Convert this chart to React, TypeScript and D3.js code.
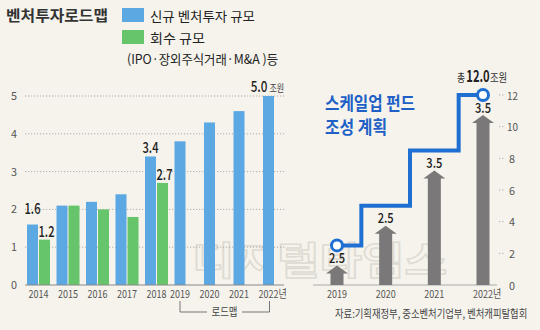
import React from 'react';
import * as d3 from 'd3';

const years = ['2014', '2015', '2016', '2017', '2018', '2019', '2020', '2021', '2022'];
const newInvest = [1.6, 2.1, 2.2, 2.4, 3.4, 3.8, 4.3, 4.6, 5.0];
const recovery: (number | null)[] = [1.2, 2.1, 2.0, 1.8, 2.7, null, null, null, null];
const leftTicks = [0, 1, 2, 3, 4, 5];
const newLabelIdx = [0, 4, 8];
const recLabelIdx = [0, 4];

const fundYears = ['2019', '2020', '2021', '2022'];
const fundAmounts = [2.5, 2.5, 3.5, 3.5];
const rightTicks = [0, 2, 4, 6, 8, 10, 12];

const BLUE = '#5ba8e3';
const GREEN = '#66c56a';
const LINE = '#1f6fd2';
const GRAY = '#7a7879';
const BG = '#f5f3ec';
const KR = "'Noto Sans CJK KR', 'Noto Sans', sans-serif";

function YearLabel({ cx, y, text, last }: { cx: number; y: number; text: string; last: boolean }) {
  const sx = 0.82;
  if (last) {
    return (
      <text transform={`translate(${cx - 10},${y}) scale(${sx},1)`} fontSize={11} fill="#555">
        {text}년
      </text>
    );
  }
  return (
    <text transform={`translate(${cx},${y}) scale(${sx},1)`} fontSize={11} fill="#555" textAnchor="middle">
      {text}
    </text>
  );
}

export default function App() {
  const W = 540, H = 330;
  // left chart
  const xL = d3.scaleBand<string>().domain(years).range([24, 24 + 29.5 * years.length]).padding(0);
  const yL = d3.scaleLinear().domain([0, 5]).range([285, 96]);
  const barW = 11;
  const blueX = (y: string) => (xL(y) as number) + 3;
  const greenX = (y: string) => (xL(y) as number) + 15;
  const groupCenter = (i: number) =>
    recovery[i] != null ? (blueX(years[i]) + greenX(years[i]) + barW) / 2 : blueX(years[i]) + barW / 2;

  // right chart
  const xR = d3.scalePoint<string>().domain(fundYears).range([337, 483]);
  const yR = d3.scaleLinear().domain([0, 12]).range([285, 95]);
  const cum = Array.from(d3.cumsum(fundAmounts));
  const stepLine = d3.line<number>()
    .x((_, i) => xR(fundYears[i]) as number)
    .y((d) => yR(d))
    .curve(d3.curveStep);

  const arrowPath = (cx: number, tip: number, base: number) => {
    const hw = 11, sw = 6.5, hh = 8;
    return `M${cx},${tip} L${cx + hw},${tip + hh} L${cx + sw},${tip + hh} L${cx + sw},${base} L${cx - sw},${base} L${cx - sw},${tip + hh} L${cx - hw},${tip + hh} Z`;
  };

  return (
    <svg width={W} height={H} style={{ position: 'absolute', left: 0, top: 0 }} fontFamily={KR}>
      <rect x={0} y={0} width={W} height={H} fill={BG} />

      {/* watermark */}
      <text x={192} y={274} fontSize={38} fontWeight={700} fill="none" stroke="#dedbd3" strokeWidth={1.5}
        textLength={255} lengthAdjust="spacingAndGlyphs">디지털타임스</text>

      {/* title and legend */}
      <text x={6} y={21} fontSize={15} fontWeight={700} fill="#333" textLength={102} lengthAdjust="spacingAndGlyphs">벤처투자로드맵</text>
      <rect x={122} y={8} width={22} height={14} fill={BLUE} />
      <text x={150} y={21} fontSize={13} fill="#222" textLength={105} lengthAdjust="spacingAndGlyphs">신규 벤처투자 규모</text>
      <rect x={122} y={30} width={22} height={14} fill={GREEN} />
      <text x={150} y={43} fontSize={13} fill="#222" textLength={55} lengthAdjust="spacingAndGlyphs">회수 규모</text>
      <text x={127} y={64} fontSize={13} fill="#222" textLength={151} lengthAdjust="spacingAndGlyphs">(IPO·장외주식거래·M&amp;A )등</text>

      {/* left grid */}
      {leftTicks.map((t) => (
        <g key={'lt' + t}>
          {t > 0 && (
            <line x1={25} x2={286} y1={yL(t)} y2={yL(t)} stroke="#9a9a9a" strokeWidth={0.8} strokeDasharray="1.2,1.8" />
          )}
          <text x={14} y={yL(t) + 4} fontSize={11} fill="#555" textAnchor="middle" textLength={6} lengthAdjust="spacingAndGlyphs">{t}</text>
        </g>
      ))}

      {/* left bars */}
      {years.map((y, i) => (
        <g key={'b' + y}>
          <rect x={blueX(y)} y={yL(newInvest[i])} width={barW} height={yL(0) - yL(newInvest[i])} fill={BLUE} />
          {recovery[i] != null && (
            <rect x={greenX(y)} y={yL(recovery[i] as number)} width={barW} height={yL(0) - yL(recovery[i] as number)} fill={GREEN} />
          )}
        </g>
      ))}
      <line x1={25} x2={284} y1={yL(0)} y2={yL(0)} stroke="#888" strokeWidth={1} />

      {/* x labels left */}
      {years.map((y, i) => (
        <YearLabel key={'xl' + y} cx={groupCenter(i)} y={298} text={y} last={i === years.length - 1} />
      ))}

      {/* value labels left */}
      {newLabelIdx.map((i) => {
        const cx = blueX(years[i]) + barW / 2;
        const top = yL(newInvest[i]);
        const last = i === years.length - 1;
        const dy = i === 0 ? -11 : -3;
        if (last) {
          return (
            <g key={'nl' + i}>
              <text transform={`translate(${cx - 1},${top - 4}) scale(0.78,1)`} fontSize={15} fontWeight={500} fill="#222" textAnchor="end">
                {newInvest[i].toFixed(1)}
              </text>
              <text transform={`translate(${cx + 1},${top - 4}) scale(0.8,1)`} fontSize={10} fill="#444">조원</text>
            </g>
          );
        }
        return (
          <text key={'nl' + i} x={cx} y={top + dy} fontSize={15} fontWeight={500} fill="#222"
            textAnchor="middle" textLength={16} lengthAdjust="spacingAndGlyphs">
            {newInvest[i].toFixed(1)}
          </text>
        );
      })}
      {recLabelIdx.map((i) => {
        const cx = greenX(years[i]) + barW / 2 + 2;
        const top = yL(recovery[i] as number);
        return (
          <text key={'rl' + i} x={cx} y={top - 3} fontSize={15} fontWeight={500} fill="#222" textAnchor="middle"
            textLength={16} lengthAdjust="spacingAndGlyphs">
            {(recovery[i] as number).toFixed(1)}
          </text>
        );
      })}

      {/* roadmap bracket */}
      <g stroke="#666" strokeWidth={0.9} fill="none">
        <path d={`M${groupCenter(5)},301 V312 H207`} />
        <path d={`M${groupCenter(8) + 1},301 V312 H242`} />
      </g>
      <text x={224.5} y={316} fontSize={11} fill="#444" textAnchor="middle" textLength={26} lengthAdjust="spacingAndGlyphs">로드맵</text>

      {/* right chart */}
      <text x={325} y={110} fontSize={18} fontWeight={700} fill="#2060c6" textLength={90} lengthAdjust="spacingAndGlyphs">스케일업 펀드</text>
      <text x={325} y={134} fontSize={18} fontWeight={700} fill="#2060c6" textLength={62} lengthAdjust="spacingAndGlyphs">조성 계획</text>

      {rightTicks.map((t) => (
        <g key={'rt' + t}>
          {t > 0 && <line x1={499} x2={505} y1={yR(t)} y2={yR(t)} stroke="#999" strokeWidth={0.8} strokeDasharray="1.2,2" />}
          <text x={t >= 10 ? 507 : 509} y={yR(t) + 4.5} fontSize={11} fill="#555"
            textLength={t >= 10 ? 11 : 6} lengthAdjust="spacingAndGlyphs">{t}</text>
        </g>
      ))}
      <line x1={313} x2={497} y1={yR(0)} y2={yR(0)} stroke="#aaa" strokeWidth={1} />

      {fundYears.map((y, i) => {
        const cx = xR(y) as number;
        const tip = yR(cum[i]) + 20;
        return (
          <g key={'ar' + y}>
            <path d={arrowPath(cx, tip, yR(0))} fill={GRAY} />
            <text x={cx} y={tip - 2.5} fontSize={14} fontWeight={500} fill="#222" textAnchor="middle"
              textLength={16} lengthAdjust="spacingAndGlyphs">{fundAmounts[i].toFixed(1)}</text>
            <YearLabel cx={cx} y={298} text={y} last={i === fundYears.length - 1} />
          </g>
        );
      })}

      <path d={stepLine(cum) as string} fill="none" stroke={LINE} strokeWidth={4} strokeLinejoin="miter" />
      {[0, cum.length - 1].map((i) => (
        <circle key={'c' + i} cx={xR(fundYears[i]) as number} cy={yR(cum[i])} r={5.5} fill="#fff" stroke={LINE} strokeWidth={3} />
      ))}

      {/* total */}
      <text transform="translate(465,82) scale(0.8,1)" fontSize={11} fill="#333" textAnchor="end">총</text>
      <text transform="translate(478,82) scale(0.7,1)" fontSize={16} fontWeight={700} fill="#222" textAnchor="middle">
        {cum[cum.length - 1].toFixed(1)}
      </text>
      <text transform="translate(490,82) scale(0.85,1)" fontSize={11} fill="#333">조원</text>

      {/* source */}
      <text transform="translate(335,318) scale(0.85,1)" fontSize={11} fill="#444">자료:기획재정부, 중소벤처기업부, 벤처캐피탈협회</text>
    </svg>
  );
}
